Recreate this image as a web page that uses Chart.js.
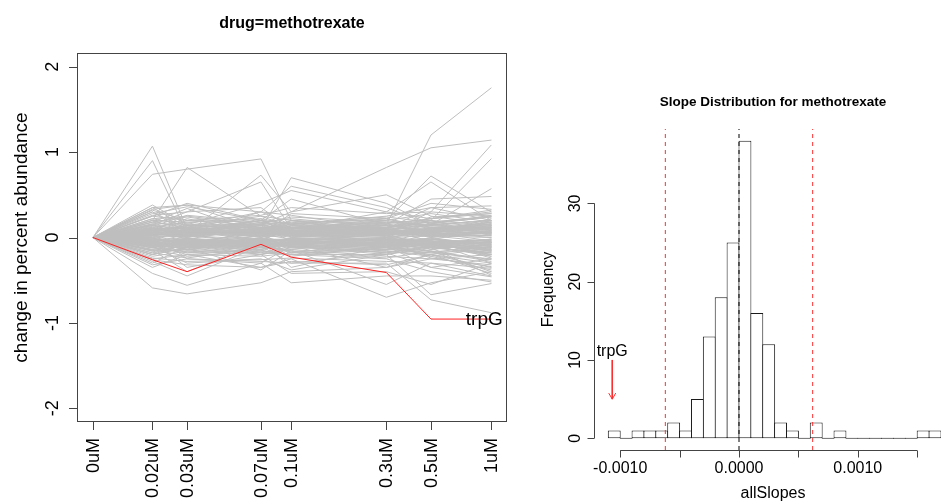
<!DOCTYPE html>
<html>
<head>
<meta charset="utf-8">
<title>methotrexate</title>
<script src="https://cdn.jsdelivr.net/npm/chart.js@4/dist/chart.umd.min.js"></script>
<style>
  body { margin: 0; background: #fff; }
  #wrap { position: relative; width: 941px; height: 504px; }
  #wrap canvas { position: absolute; left: 0; top: 0; }
</style>
</head>
<body>
<div id="wrap">
  <canvas id="abundanceChart" width="941" height="504"></canvas>
  <canvas id="slopeChart" width="941" height="504"></canvas>
</div>
<script>
// ---- dose response (left panel) ----
const doseLabels = ["0uM", "0.02uM", "0.03uM", "0.07uM", "0.1uM", "0.3uM", "0.5uM", "1uM"];
const dosePositions = [0, 0.1495, 0.2365, 0.422, 0.498, 0.737, 0.849, 1];
const abundanceTicks = [-2, -1, 0, 1, 2];

const trpG = [0, -0.26, -0.40, -0.08, -0.23, -0.41, -0.955, -0.955];
const trpGLabelAt = [0.983, -0.955];

// every other gene, one row per gene, one value per dose
const otherGenes = [
  [0, 0.05, 0.02, 0.10, 0.08, 0.15, 1.20, 1.75],
  [0, 0.10, 0.12, 0.15, 0.30, 0.82, 1.05, 1.14],
  [0, 1.07, 0.10, 0.20, 0.15, 0.05, 0.30, 1.08],
  [0, 0.90, 0.05, 0.30, 0.60, 0.35, 0.15, 0.20],
  [0, 0.74, 0.80, 0.92, 0.20, 0.10, 0.05, 0.12],
  [0, 0.20, 0.82, 0.25, 0.12, 0.18, 0.20, 0.92],
  [0, 0.30, 0.05, 0.73, 0.30, 0.50, 0.25, 0.15],
  [0, 0.15, 0.30, 0.65, 0.10, 0.20, 0.72, 0.30],
  [0, 0.35, 0.38, 0.10, 0.70, 0.40, 0.15, 0.57],
  [0, 0.38, 0.15, 0.40, 0.55, 0.30, 0.65, 0.20],
  [0, 0.25, 0.40, 0.20, 0.45, 0.15, 0.45, 0.48],
  [0, 0.33, 0.38, 0.30, 0.15, 0.25, 0.35, 0.37],
  [0, -0.59, -0.66, -0.53, -0.40, -0.35, -0.25, -0.20],
  [0, -0.42, -0.56, -0.30, -0.53, -0.45, -0.45, -0.50],
  [0, -0.35, -0.20, -0.35, -0.25, -0.70, -0.53, -0.40],
  [0, -0.28, -0.45, -0.10, -0.30, -0.30, -0.73, -0.88],
  [0, -0.10, -0.30, -0.25, -0.38, -0.20, -0.67, -0.54],
  [0, -0.20, -0.12, -0.38, -0.15, -0.55, -0.30, -0.45],
  [0, -0.05, -0.35, -0.20, -0.42, -0.40, -0.55, -0.30],
  [0, -0.30, -0.10, -0.15, -0.20, -0.25, -0.40, -0.52],
  [0, 0.05, -0.25, -0.30, -0.10, -0.35, -0.20, -0.42],
  [0, -0.15, -0.40, -0.05, -0.35, -0.10, -0.35, -0.25],
  [0, 0.12, 0.05, 0.08, 0.02, 0.06, 0.10, 0.15],
  [0, -0.08, -0.02, -0.10, -0.05, -0.03, -0.12, -0.18],
  [0, 0.20, 0.18, 0.22, 0.15, 0.10, 0.05, 0.22],
  [0, -0.15, -0.10, -0.06, -0.12, -0.15, -0.08, -0.10],
  [0, 0.03, 0.10, 0.04, -0.02, 0.00, 0.02, -0.05],
  [0, -0.02, -0.05, 0.02, 0.05, -0.04, -0.02, 0.08],
  [0, 0.08, 0.14, 0.12, 0.10, 0.12, 0.18, 0.25],
  [0, -0.12, -0.18, -0.14, -0.08, -0.10, -0.16, -0.28],
  [0, 0.15, 0.02, 0.18, 0.08, 0.14, 0.12, 0.05],
  [0, -0.05, -0.15, -0.02, -0.18, -0.06, -0.04, -0.15],
  [0, 0.06, 0.08, -0.04, 0.12, 0.04, 0.08, 0.12],
  [0, -0.18, -0.08, -0.12, -0.02, -0.12, -0.20, -0.35],
  [0, 0.22, 0.25, 0.15, 0.18, 0.20, 0.28, 0.18],
  [0, 0.00, -0.06, 0.06, 0.00, 0.02, -0.06, -0.02],
  [0, 0.10, 0.22, 0.05, 0.14, 0.08, 0.15, 0.10],
  [0, -0.10, -0.04, -0.18, -0.10, -0.18, -0.10, -0.22],
  [0, 0.04, -0.10, 0.10, 0.06, -0.08, 0.04, 0.02],
  [0, -0.06, 0.04, -0.08, -0.06, 0.05, -0.14, -0.08],
  [0, 0.18, 0.12, 0.25, 0.20, 0.16, 0.22, 0.30],
  [0, -0.22, -0.16, -0.20, -0.14, -0.22, -0.25, -0.32],
  [0, 0.02, 0.06, 0.14, 0.04, 0.10, 0.00, 0.06],
  [0, -0.04, -0.12, -0.04, -0.08, -0.02, -0.10, -0.12],
  [0, 0.14, 0.10, 0.00, 0.10, 0.18, 0.14, 0.20],
  [0, -0.14, -0.22, -0.16, -0.20, -0.12, -0.18, -0.25],
  [0, 0.08, -0.02, 0.12, -0.04, 0.08, 0.06, -0.04],
  [0, -0.02, 0.08, -0.02, 0.08, -0.06, 0.08, 0.04],
  [0, 0.25, 0.20, 0.18, 0.22, 0.12, 0.20, 0.14],
  [0, -0.25, -0.20, -0.22, -0.18, -0.16, -0.22, -0.38],
  [0, 0.05, 0.16, 0.08, 0.16, 0.22, 0.10, 0.18],
  [0, -0.08, -0.08, -0.14, -0.04, -0.08, -0.06, -0.20],
  [0, 0.16, 0.06, 0.20, 0.06, 0.02, 0.16, 0.08],
  [0, -0.12, -0.02, -0.08, -0.16, -0.14, -0.02, -0.06],
  [0, 0.10, 0.12, 0.02, 0.20, 0.06, 0.24, 0.28],
  [0, 0.00, 0.02, -0.06, -0.08, 0.08, -0.04, -0.14],
  [0, 0.06, 0.00, 0.16, 0.02, -0.02, 0.12, 0.10],
  [0, -0.16, -0.14, -0.02, -0.10, -0.20, -0.12, -0.18],
  [0, 0.12, 0.18, 0.10, 0.12, 0.16, 0.06, 0.16],
  [0, -0.06, -0.18, -0.10, -0.02, -0.04, -0.16, -0.40],
  [0, 0.30, 0.10, 0.06, 0.04, 0.10, 0.02, 0.00],
  [0, -0.20, -0.06, -0.04, -0.22, -0.10, -0.08, -0.16],
  [0, 0.04, 0.04, 0.20, 0.10, 0.14, 0.18, 0.24],
  [0, -0.10, -0.12, 0.00, -0.06, -0.16, -0.20, -0.10],
  [0, 0.18, 0.24, 0.12, 0.08, 0.04, 0.10, 0.04],
  [0, -0.03, 0.00, -0.12, -0.14, 0.00, -0.06, -0.30],
  [0, 0.08, 0.06, 0.06, 0.16, 0.10, 0.04, 0.20],
  [0, -0.14, -0.06, -0.20, -0.06, -0.06, -0.14, -0.04],
  [0, 0.02, 0.14, 0.16, 0.06, 0.20, 0.12, 0.12],
  [0, -0.08, -0.14, -0.06, -0.12, -0.12, -0.04, -0.24],
  [0, 0.14, 0.04, 0.10, 0.18, 0.08, 0.20, 0.02],
  [0, -0.18, -0.24, -0.12, -0.08, -0.18, -0.10, -0.14],
  [0, 0.06, 0.20, 0.14, 0.12, 0.02, 0.08, 0.18],
  [0, -0.04, -0.02, -0.16, -0.04, -0.14, -0.18, -0.08],
  [0, 0.10, 0.08, 0.16, 0.24, 0.18, 0.14, 0.10],
  [0, -0.12, -0.16, -0.08, -0.18, -0.04, -0.12, -0.44],
  [0, 0.22, 0.14, 0.08, 0.06, 0.12, 0.16, 0.26],
  [0, -0.06, -0.10, -0.20, -0.12, -0.08, -0.22, -0.12],
  [0, 0.03, 0.08, 0.02, 0.08, 0.16, 0.04, 0.06],
  [0, -0.10, 0.02, -0.02, -0.02, -0.02, -0.08, -0.02],
  [0, 0.16, 0.16, 0.06, 0.14, 0.06, 0.10, 0.14],
  [0, -0.20, -0.12, -0.10, -0.16, -0.24, -0.16, -0.26],
  [0, 0.07, 0.02, 0.22, 0.00, 0.12, 0.22, 0.32],
  [0, -0.01, -0.08, -0.04, -0.10, -0.10, 0.00, -0.10],
  [0, 0.11, 0.10, 0.12, 0.04, 0.00, 0.06, 0.00],
  [0, -0.09, -0.20, -0.14, -0.06, -0.06, -0.24, -0.34],
  [0, 0.13, 0.26, 0.18, 0.12, 0.14, 0.08, 0.16],
  [0, -0.16, -0.04, -0.06, -0.10, -0.14, -0.06, -0.20],
  [0, 0.20, 0.08, 0.14, 0.10, 0.22, 0.12, 0.06],
  [0, -0.07, -0.14, -0.18, -0.20, -0.20, -0.10, -0.06],
  [0, 0.09, 0.12, 0.08, 0.20, 0.04, 0.16, 0.24],
  [0, -0.12, -0.08, 0.02, -0.08, -0.12, -0.16, -0.16],
  [0, 0.28, 0.36, 0.20, 0.16, 0.24, 0.18, 0.12],
  [0, -0.24, -0.28, -0.26, -0.24, -0.28, -0.30, -0.36],
  [0, 0.35, 0.12, 0.30, 0.26, 0.10, 0.35, 0.20],
  [0, -0.32, -0.25, -0.28, -0.30, -0.18, -0.35, -0.46],
  [0, 0.26, 0.30, 0.35, 0.10, 0.30, 0.22, 0.28],
  [0, 0.18, 0.34, 0.04, 0.28, 0.22, 0.40, 0.33],
  [0, -0.26, -0.32, -0.35, -0.28, -0.32, -0.20, -0.30],
  [0, 0.32, 0.20, 0.26, 0.35, 0.28, 0.30, 0.25],
  [0, 0.04, 0.02, 0.06, 0.03, 0.05, 0.04, 0.08],
  [0, -0.03, -0.05, -0.02, -0.04, -0.06, -0.03, -0.06],
  [0, 0.07, 0.05, 0.03, 0.08, 0.04, 0.09, 0.12],
  [0, -0.06, -0.03, -0.07, -0.02, -0.05, -0.08, -0.12],
  [0, 0.01, 0.04, 0.08, 0.05, 0.07, 0.02, 0.03],
  [0, -0.01, -0.07, -0.04, -0.07, -0.02, -0.05, -0.04],
  [0, 0.09, 0.07, 0.05, 0.06, 0.09, 0.06, 0.10],
  [0, -0.09, -0.04, -0.09, -0.05, -0.07, -0.02, -0.08],
  [0, 0.05, 0.09, 0.01, 0.02, 0.03, 0.07, 0.05],
  [0, -0.05, -0.09, -0.01, -0.09, -0.09, -0.07, -0.16],
  [0, 0.02, 0.01, 0.07, 0.09, 0.01, 0.05, 0.14],
  [0, -0.07, -0.01, -0.05, -0.01, -0.04, -0.10, -0.02],
  [0, 0.06, 0.03, 0.10, 0.04, 0.06, 0.01, 0.07],
  [0, -0.02, -0.06, -0.08, -0.06, -0.01, -0.04, -0.10],
  [0, 0.08, 0.11, 0.04, 0.07, 0.11, 0.08, 0.04],
  [0, -0.04, -0.10, -0.03, -0.03, -0.08, -0.09, -0.05],
  [0, 0.03, 0.06, 0.09, 0.01, 0.04, 0.10, 0.09],
  [0, -0.08, -0.02, -0.06, -0.08, -0.03, -0.01, -0.13],
  [0, 0.10, 0.04, 0.02, 0.10, 0.08, 0.03, 0.06],
  [0, -0.11, -0.07, -0.11, -0.04, -0.10, -0.06, -0.07],
  [0, 0.05, 0.08, 0.07, 0.06, 0.02, 0.12, 0.16],
  [0, -0.03, -0.04, -0.05, -0.11, -0.05, -0.11, -0.20],
  [0, 0.02, 0.10, 0.03, 0.03, 0.06, 0.05, 0.02],
  [0, -0.06, -0.08, -0.10, -0.03, -0.11, -0.02, -0.09],
  [0, 0.07, 0.02, 0.11, 0.08, 0.03, 0.08, 0.11],
  [0, -0.10, -0.05, -0.03, -0.07, -0.06, -0.09, -0.15],
  [0, 0.11, 0.06, 0.05, 0.02, 0.10, 0.11, 0.07],
  [0, -0.01, -0.11, -0.07, -0.01, -0.03, -0.05, -0.03],
  [0, 0.04, 0.03, 0.12, 0.11, 0.07, 0.03, 0.13],
  [0, -0.05, -0.01, -0.12, -0.05, -0.09, -0.12, -0.11],
  [0, 0.08, 0.08, 0.04, 0.05, 0.05, 0.07, 0.09],
  [0, -0.07, -0.06, -0.01, -0.10, -0.07, -0.04, -0.22],
  [0, 0.03, 0.12, 0.06, 0.07, 0.12, 0.09, 0.18],
  [0, -0.04, -0.03, -0.08, -0.09, -0.01, -0.07, -0.06],
  [0, 0.06, 0.05, 0.09, 0.12, 0.05, 0.02, 0.05],
  [0, -0.09, -0.12, -0.05, -0.02, -0.12, -0.08, -0.18]
];

// ---- slope histogram (right panel) ----
const slopeBinMids = [
  -0.00105, -0.00095, -0.00085, -0.00075, -0.00065, -0.00055, -0.00045,
  -0.00035, -0.00025, -0.00015, -0.00005, 0.00005, 0.00015, 0.00025,
  0.00035, 0.00045, 0.00055, 0.00065, 0.00075, 0.00085, 0.00095,
  0.00105, 0.00115, 0.00125, 0.00135, 0.00145, 0.00155, 0.00165
];
const slopeCounts = [1, 0, 1, 1, 1, 2, 1, 5, 13, 18, 25, 38, 16, 12, 2, 1, 0, 2, 0, 1, 0, 0, 0, 0, 0, 0, 1, 1];
const slopeCutoffs = [-0.00062, 0.00062];
const slopeCentre = 0;
const trpGSlope = -0.001067;
const trpGArrow = [10, 5];
const freqTicks = [0, 10, 20, 30];
const slopeTicks = [-0.001, -0.0005, 0, 0.0005, 0.001, 0.0015];
const slopeTickLabels = ["-0.0010", "", "0.0000", "", "0.0010", ""];

const FONT = "'Liberation Sans', Arial, Helvetica, sans-serif";

// rotated text: reads bottom to top
function vText(ctx, text, x, y, align, baseline) {
  ctx.save();
  ctx.translate(x, y);
  ctx.rotate(-Math.PI / 2);
  ctx.textAlign = align;
  ctx.textBaseline = baseline;
  ctx.fillText(text, 0, 0);
  ctx.restore();
}

const abundanceAxes = {
  id: "abundanceAxes",
  afterDraw(chart) {
    const { ctx, chartArea: a, scales: { x, y } } = chart;
    ctx.save();
    ctx.strokeStyle = "#444";
    ctx.lineWidth = 1;
    ctx.strokeRect(a.left + 0.5, a.top + 0.5, a.right - a.left - 1, a.bottom - a.top - 1);
    ctx.beginPath();
    abundanceTicks.forEach(v => {
      const py = Math.round(y.getPixelForValue(v)) + 0.5;
      ctx.moveTo(a.left, py);
      ctx.lineTo(a.left - 8, py);
    });
    dosePositions.forEach(v => {
      const px = Math.round(x.getPixelForValue(v)) + 0.5;
      ctx.moveTo(px, a.bottom);
      ctx.lineTo(px, a.bottom + 8);
    });
    ctx.stroke();

    ctx.fillStyle = "#000";
    ctx.font = "18px " + FONT;
    abundanceTicks.forEach(v => vText(ctx, String(v), 58, y.getPixelForValue(v), "center", "alphabetic"));
    doseLabels.forEach((lab, i) => vText(ctx, lab, x.getPixelForValue(dosePositions[i]) + 1, 438, "right", "middle"));

    ctx.font = "19px " + FONT;
    vText(ctx, "change in percent abundance", 27, (a.top + a.bottom) / 2, "center", "alphabetic");

    ctx.textAlign = "center";
    ctx.textBaseline = "middle";
    ctx.fillText("trpG", x.getPixelForValue(trpGLabelAt[0]), y.getPixelForValue(trpGLabelAt[1]) + 1);

    ctx.font = "bold 16px " + FONT;
    ctx.textBaseline = "alphabetic";
    ctx.fillText("drug=methotrexate", (a.left + a.right) / 2, 28);
    ctx.restore();
  }
};

const slopeAxes = {
  id: "slopeAxes",
  afterDraw(chart) {
    const { ctx, chartArea: a, scales: { x, y } } = chart;
    ctx.save();
    ctx.strokeStyle = "#444";
    ctx.lineWidth = 1;
    ctx.beginPath();
    const ax = a.left - 0.5;
    const y0 = y.getPixelForValue(freqTicks[0]);
    const y1 = y.getPixelForValue(freqTicks[freqTicks.length - 1]);
    ctx.moveTo(ax, y0);
    ctx.lineTo(ax, y1);
    freqTicks.forEach(v => {
      const py = Math.round(y.getPixelForValue(v)) + 0.5;
      ctx.moveTo(ax, py);
      ctx.lineTo(ax - 7, py);
    });
    const ay = a.bottom + 0.5;
    ctx.moveTo(x.getPixelForValue(slopeTicks[0]), ay);
    ctx.lineTo(x.getPixelForValue(slopeTicks[slopeTicks.length - 1]), ay);
    slopeTicks.forEach(v => {
      const px = Math.round(x.getPixelForValue(v)) + 0.5;
      ctx.moveTo(px, ay);
      ctx.lineTo(px, ay + 7);
    });
    ctx.stroke();

    // arrow head for trpG
    const hx = x.getPixelForValue(trpGSlope);
    const hy = y.getPixelForValue(trpGArrow[1]);
    ctx.strokeStyle = "#ff2a2a";
    ctx.beginPath();
    ctx.moveTo(hx - 3.5, hy - 6);
    ctx.lineTo(hx, hy);
    ctx.lineTo(hx + 3.5, hy - 6);
    ctx.stroke();

    ctx.fillStyle = "#000";
    ctx.font = "16px " + FONT;
    freqTicks.forEach(v => vText(ctx, String(v), 580, y.getPixelForValue(v), "center", "alphabetic"));
    ctx.textAlign = "center";
    ctx.textBaseline = "alphabetic";
    slopeTicks.forEach((v, i) => {
      if (slopeTickLabels[i]) ctx.fillText(slopeTickLabels[i], x.getPixelForValue(v), 473);
    });
    ctx.fillText("allSlopes", 773, 498);
    ctx.fillText("trpG", hx, y.getPixelForValue(trpGArrow[0]) - 4);
    vText(ctx, "Frequency", 553, (a.top + a.bottom) / 2, "center", "alphabetic");

    ctx.font = "bold 13.5px " + FONT;
    ctx.fillText("Slope Distribution for methotrexate", 773, 106);
    ctx.restore();
  }
};

document.addEventListener("DOMContentLoaded", () => {

    // spaghetti plot of abundance change per gene, trpG highlighted
    const toPoints = row => row.map((v, i) => ({ x: dosePositions[i], y: v }));

    new Chart(document.getElementById("abundanceChart"), {
        type: "line",
        data: {
            datasets: [
                {
                    label: "trpG",
                    data: toPoints(trpG),
                    borderColor: "#ff2020",
                    borderWidth: 1,
                    order: 0
                },
                ...otherGenes.map(row => ({
                    data: toPoints(row),
                    borderColor: "#bebebe",
                    borderWidth: 1,
                    order: 1
                }))
            ]
        },
        options: {
            responsive: false,
            animation: false,
            events: [],
            layout: { padding: { left: 77, top: 53, right: 434, bottom: 82 } },
            elements: {
                point: { radius: 0 },
                line: { tension: 0, borderJoinStyle: "round", borderCapStyle: "round" }
            },
            plugins: { legend: { display: false }, tooltip: { enabled: false } },
            scales: {
                x: { type: "linear", min: -0.04, max: 1.04, display: false },
                y: { type: "linear", min: -2.16, max: 2.16, display: false }
            }
        },
        plugins: [abundanceAxes]
    });

    // histogram of fitted slopes with cut-off lines
    const yMin = -1.5, yMax = 39.5;
    const vLine = v => [{ x: v, y: yMin }, { x: v, y: yMax }];

    new Chart(document.getElementById("slopeChart"), {
        type: "bar",
        data: {
            datasets: [
                {
                    type: "line",
                    data: [{ x: trpGSlope, y: trpGArrow[0] }, { x: trpGSlope, y: trpGArrow[1] }],
                    borderColor: "#ff2a2a",
                    borderWidth: 1,
                    order: 0
                },
                ...slopeCutoffs.map(c => ({
                    type: "line",
                    data: vLine(c),
                    borderColor: "#ff3030",
                    borderWidth: 1,
                    borderDash: [4, 4],
                    order: 1
                })),
                {
                    type: "line",
                    data: vLine(slopeCentre),
                    borderColor: "#000",
                    borderWidth: 1,
                    borderDash: [4, 4],
                    order: 1
                },
                {
                    type: "bar",
                    data: slopeBinMids.map((m, i) => ({ x: m, y: slopeCounts[i] })),
                    backgroundColor: "#fff",
                    borderColor: "#1a1a1a",
                    borderWidth: 1,
                    borderSkipped: false,
                    inflateAmount: 0,
                    minBarLength: 1,
                    barPercentage: 1.084,
                    categoryPercentage: 1,
                    order: 2
                }
            ]
        },
        options: {
            responsive: false,
            animation: false,
            events: [],
            layout: { padding: { left: 595, top: 129, right: 0, bottom: 54 } },
            elements: { point: { radius: 0 }, line: { tension: 0 } },
            plugins: { legend: { display: false }, tooltip: { enabled: false } },
            scales: {
                x: {
                    type: "linear", min: -0.0012121, max: 0.0017003, offset: false, display: false,
                    afterBuildTicks: s => { s.ticks = slopeTicks.map(v => ({ value: v })); }
                },
                y: {
                    type: "linear", min: yMin, max: yMax, display: false,
                    afterBuildTicks: s => { s.ticks = freqTicks.map(v => ({ value: v })); }
                }
            }
        },
        plugins: [slopeAxes]
    });

});
</script>
</body>
</html>
